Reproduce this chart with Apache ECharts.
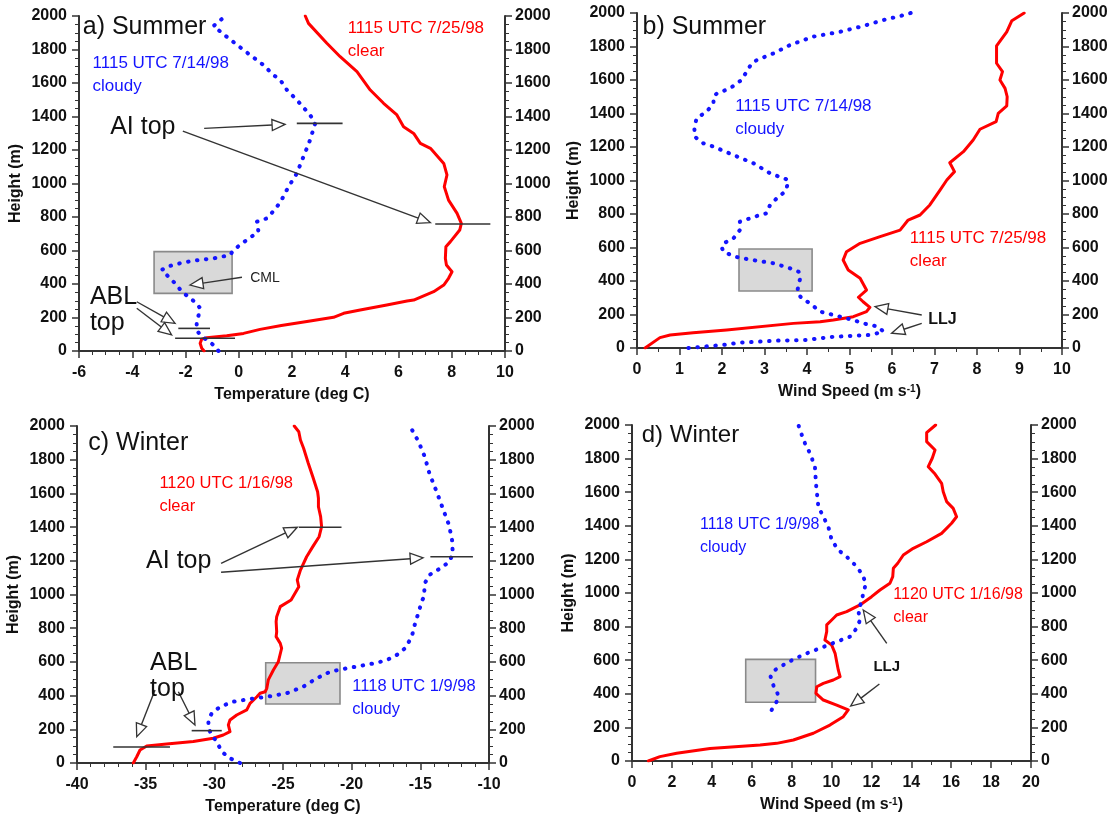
<!DOCTYPE html>
<html>
<head>
<meta charset="utf-8">
<script src="https://cdn.jsdelivr.net/npm/echarts@6/dist/echarts.min.js"></script>
<style>
  html, body { margin: 0; padding: 0; background: #ffffff; }
  #chart { width: 1117px; height: 821px; }
</style>
</head>
<body>
<div id="chart"></div>
<script>
// ---------- Profile data: [x value, height in m] ----------
// a) Summer temperature (deg C)
const sumTempClear = [[-1.3,0],[-1.39,16],[-1.45,46],[-1.39,71],[-1.2,79],[-0.45,91],[0.18,105],[0.8,129],[1.6,152],[2.68,179],[3.56,201],[3.94,225],[4.56,245],[5.56,275],[6.32,298],[6.57,304],[7.32,354],[7.7,394],[7.88,434],[8.01,473],[7.8,513],[7.76,553],[7.78,623],[7.95,653],[8.3,722],[8.36,762],[8.2,822],[7.88,901],[7.72,981],[7.82,1051],[7.7,1120],[7.2,1210],[6.82,1240],[6.57,1299],[6.19,1339],[5.94,1409],[5.44,1479],[4.94,1558],[4.44,1668],[3.81,1757],[3.31,1837],[2.62,1956],[2.5,2000]];
const sumTempCloudy = [[-0.76,0],[-0.95,36],[-1.2,66],[-1.45,96],[-1.58,125],[-1.58,165],[-1.52,205],[-1.45,255],[-1.58,284],[-1.89,324],[-2.14,354],[-2.33,394],[-2.58,434],[-2.89,484],[-2.7,503],[-2.2,524],[-1.7,539],[-0.95,553],[-0.32,573],[-0.2,603],[0.3,663],[0.74,712],[0.68,772],[1.06,792],[1.18,812],[1.56,887],[1.87,981],[2.18,1060],[2.43,1160],[2.68,1260],[2.87,1359],[2.68,1409],[2.18,1499],[1.81,1558],[1.56,1618],[1.3,1648],[0.93,1707],[0.18,1797],[-0.45,1876],[-0.95,1940],[-0.5,2000]];

// b) Summer wind speed (m/s)
const sumWindClear = [[0.19,0],[0.54,62],[0.78,78],[1.32,91],[2.11,107],[3.68,147],[4.31,157],[4.62,167],[5.09,187],[5.4,217],[5.48,243],[5.32,276],[5.21,303],[5.4,346],[5.36,356],[5.25,416],[4.97,466],[4.85,525],[4.93,575],[5.25,625],[5.72,665],[6.19,704],[6.38,764],[6.66,794],[6.89,854],[7.13,943],[7.29,1003],[7.47,1053],[7.36,1106],[7.68,1172],[7.91,1242],[8.07,1306],[8.45,1351],[8.5,1401],[8.7,1445],[8.71,1500],[8.66,1550],[8.54,1600],[8.6,1650],[8.46,1700],[8.46,1803],[8.7,1888],[8.82,1954],[9.11,2000]];
const sumWindCloudy = [[1.21,0],[1.56,8],[2.03,18],[2.42,32],[3.29,44],[3.99,48],[4.31,58],[4.62,67],[5.09,73],[5.48,78],[5.8,97],[5.68,127],[5.32,147],[5.09,167],[4.78,187],[4.31,217],[4.07,267],[3.87,297],[3.77,336],[3.8,376],[3.85,426],[3.8,456],[3.6,476],[3.21,506],[2.82,521],[2.5,535],[2.31,545],[2.03,575],[1.99,605],[2.07,629],[2.27,655],[2.42,704],[2.42,754],[2.66,774],[2.89,794],[3.05,804],[3.13,854],[3.29,894],[3.48,933],[3.52,953],[3.56,1003],[3.13,1043],[2.74,1103],[2.27,1152],[1.8,1202],[1.56,1222],[1.36,1261],[1.35,1312],[1.4,1371],[1.64,1411],[1.8,1461],[1.8,1500],[1.88,1520],[2.19,1550],[2.46,1600],[2.58,1650],[2.7,1700],[2.82,1719],[3.21,1759],[3.6,1809],[4.15,1859],[4.78,1888],[5.32,1922],[5.8,1958],[6.19,1982],[6.44,2000]];

// c) Winter temperature (deg C)
const winTempClear = [[-35.9,0],[-35.65,37],[-35.41,77],[-34.92,101],[-33.47,113],[-31.53,127],[-30.08,147],[-29.35,166],[-28.86,186],[-28.98,226],[-28.86,255],[-28.37,285],[-27.64,315],[-27.4,354],[-26.9,393],[-26.67,414],[-26.3,423],[-26.18,443],[-26.07,493],[-25.7,552],[-25.34,601],[-25.1,681],[-25.2,710],[-25.5,750],[-25.46,779],[-25.5,839],[-25.46,868],[-25.2,928],[-24.41,967],[-23.85,1046],[-23.96,1086],[-23.73,1145],[-23.28,1224],[-22.83,1284],[-22.37,1343],[-22.19,1402],[-22.26,1462],[-22.42,1521],[-22.42,1571],[-22.48,1610],[-22.83,1699],[-23.16,1779],[-23.5,1868],[-23.73,1917],[-23.85,1966],[-24.18,2000]];
const winTempCloudy = [[-28.13,0],[-28.86,28],[-29.46,67],[-29.83,127],[-30.19,166],[-30.43,206],[-30.43,255],[-30.19,295],[-29.58,334],[-28.61,364],[-27.4,380],[-26.18,393],[-24.73,414],[-23.52,453],[-22.54,503],[-21.57,542],[-20.36,562],[-19.39,576],[-18.17,595],[-17.44,611],[-16.72,641],[-16.11,681],[-15.62,750],[-15.38,829],[-15.1,900],[-14.9,960],[-14.73,987],[-14.68,1066],[-14.34,1116],[-13.55,1155],[-12.87,1195],[-12.64,1245],[-12.69,1323],[-12.91,1412],[-13.32,1501],[-13.77,1601],[-14.34,1719],[-14.68,1818],[-15.13,1907],[-15.76,2000]];

// d) Winter wind speed (m/s)
const winWindClear = [[0.82,0],[1.4,26],[2.24,46],[3.91,75],[6.42,95],[7.25,105],[8.09,125],[9.09,165],[9.92,214],[10.59,264],[10.84,304],[10.26,333],[9.59,363],[9.22,403],[9.26,442],[9.59,462],[10.09,482],[10.43,502],[10.34,542],[10.26,591],[10.18,641],[10.01,690],[9.67,720],[9.76,770],[9.76,810],[10.01,839],[10.26,869],[10.76,889],[11.43,929],[12.01,978],[12.43,1018],[12.93,1058],[13.07,1097],[13.1,1147],[13.32,1177],[13.6,1226],[14.1,1266],[14.77,1305],[15.52,1355],[16.02,1415],[16.27,1454],[16.1,1504],[15.77,1544],[15.6,1603],[15.52,1653],[15.19,1708],[14.85,1752],[15.05,1802],[15.19,1851],[14.77,1901],[14.77,1954],[15.22,2000]];
const winWindCloudy = [[7.0,304],[7.25,353],[7.33,393],[7.08,452],[6.95,502],[7.17,542],[7.58,571],[8.09,605],[8.76,641],[9.42,671],[10.26,710],[10.93,740],[11.26,790],[11.43,839],[11.34,899],[11.51,948],[11.59,998],[11.73,1058],[11.51,1117],[11.18,1167],[10.76,1216],[10.34,1256],[10.01,1315],[9.84,1395],[9.59,1454],[9.34,1514],[9.22,1653],[9.17,1752],[8.92,1832],[8.67,1891],[8.45,1960],[8.34,2000]];

// ---------- Annotations, in data units ----------
// arrows: [x from, h from, x to, h to]; marks: [x0, x1, h]; boxes: [x0, x1, h0, h1]
// notes: [x, h, text, kind]
const sumTempArrows = [[-1.3,1329,1.74,1353],[-2.1,1313,7.2,766],[0.12,440,-1.83,394],[-3.83,294,-2.39,165],[-3.83,255,-2.52,96]];
const sumTempMarks = [[2.18,3.9,1359],[7.38,9.45,758],[-2.27,-1.08,135],[-2.39,-0.14,76]];
const sumTempBoxes = [[-3.18,-0.25,344,593]];
const sumTempNotes = [[-5.86,1936,'a) Summer','title'],[-5.49,1718,'1115 UTC 7/14/98\ncloudy','blue'],[4.09,1926,'1115 UTC 7/25/98\nclear','red'],[-4.83,1339,'AI top','big'],[0.43,434,'CML','small'],[-5.59,324,'ABL\ntop','big']];

const sumWindArrows = [[6.7,197,5.6,247],[6.7,147,5.99,88]];
const sumWindMarks = [];
const sumWindBoxes = [[2.4,4.12,340,591]];
const sumWindNotes = [[0.13,1918,'b) Summer','title'],[2.31,1441,'1115 UTC 7/14/98\ncloudy','blue'],[6.42,655,'1115 UTC 7/25/98\nclear','red'],[6.85,167,'LLJ','llj']];

const winTempArrows = [[-29.51,1185,-23.96,1399],[-29.51,1132,-14.79,1218],[-34.32,433,-35.65,156],[-32.62,423,-31.41,226]];
const winTempMarks = [[-23.85,-20.74,1399],[-14.27,-11.17,1224],[-37.36,-33.23,95],[-31.65,-29.46,192]];
const winTempBoxes = [[-26.26,-20.85,350,595]];
const winTempNotes = [[-39.18,1897,'c) Winter','title'],[-34.0,1660,'1120 UTC 1/16/98\nclear','red'],[-34.97,1199,'AI top','big'],[-19.95,453,'1118 UTC 1/9/98\ncloudy','blue'],[-34.68,592,'ABL\ntop','big']];

const winWindArrows = [[12.77,700,11.59,899],[12.4,458,10.96,327]];
const winWindMarks = [];
const winWindBoxes = [[5.7,9.2,350,605]];
const winWindNotes = [[0.49,1940,'d) Winter','title'],[3.41,1405,'1118 UTC 1/9/98\ncloudy','blue'],[13.1,988,'1120 UTC 1/16/98\nclear','red'],[12.1,561,'LLJ','llj']];

// ---------- Styling ----------
const FONT = '"Liberation Sans", Arial, Helvetica, sans-serif';
const INK = '#333333';
const RED = '#ff0000';
const BLUE = '#1414ff';
const NOTE_STYLE = {
  title: { size: 25, weight: 'normal', color: '#111111', lh: 28 },
  big:   { size: 25, weight: 'normal', color: '#111111', lh: 26 },
  blue:  { size: 17, weight: 'normal', color: BLUE, lh: 23 },
  red:   { size: 17, weight: 'normal', color: RED, lh: 23 },
  small: { size: 14, weight: 'normal', color: '#222222', lh: 18 },
  llj:   { size: 16, weight: 'bold', color: '#111111', lh: 18 }
};

const panels = [
  { grid: { left: 79, top: 16, width: 426, height: 335 }, x: { min: -6, max: 10, interval: 2, minor: 4, name: 'Temperature (deg C)' },
    sizes: {},
    clear: sumTempClear, cloudy: sumTempCloudy, arrows: sumTempArrows, marks: sumTempMarks, boxes: sumTempBoxes, notes: sumTempNotes },
  { grid: { left: 637, top: 13, width: 425, height: 335 }, x: { min: 0, max: 10, interval: 1, minor: 2, name: 'Wind Speed (m s{sup|-1})' },
    sizes: {},
    clear: sumWindClear, cloudy: sumWindCloudy, arrows: sumWindArrows, marks: sumWindMarks, boxes: sumWindBoxes, notes: sumWindNotes },
  { grid: { left: 77, top: 426, width: 412, height: 337 }, x: { min: -40, max: -10, interval: 5, minor: 5, name: 'Temperature (deg C)' },
    sizes: { blue: 16.5, red: 16.5 },
    clear: winTempClear, cloudy: winTempCloudy, arrows: winTempArrows, marks: winTempMarks, boxes: winTempBoxes, notes: winTempNotes },
  { grid: { left: 632, top: 425, width: 399, height: 336 }, x: { min: 0, max: 20, interval: 2, minor: 2, name: 'Wind Speed (m s{sup|-1})' },
    sizes: { blue: 16, red: 16, title: 24, llj: 15 },
    clear: winWindClear, cloudy: winWindCloudy, arrows: winWindArrows, marks: winWindMarks, boxes: winWindBoxes, notes: winWindNotes }
];

const axisLine = { show: true, onZero: false, lineStyle: { color: INK, width: 2 } };
const axisTick = { show: true, inside: false, length: 7, lineStyle: { color: INK, width: 1.5 } };
const tickLabel = { color: '#111111', fontFamily: FONT, fontWeight: 'bold', fontSize: 16, formatter: v => String(v) };
const nameStyle = {
  color: '#111111', fontFamily: FONT, fontWeight: 'bold', fontSize: 16,
  rich: { sup: { fontFamily: FONT, fontWeight: 'bold', fontSize: 10, verticalAlign: 'top', lineHeight: 10, padding: [0, 0, 6, 0] } }
};

const grids = [], xAxes = [], yAxes = [], series = [];

panels.forEach((p, g) => {
  grids.push(Object.assign({ containLabel: false, outerBoundsMode: 'none' }, p.grid));
  xAxes.push({
    type: 'value', gridIndex: g, position: 'bottom', min: p.x.min, max: p.x.max, interval: p.x.interval,
    name: p.x.name, nameLocation: 'middle', nameGap: 36, nameMoveOverlap: false, nameTextStyle: nameStyle,
    axisLine, axisTick,
    minorTick: { show: true, splitNumber: p.x.minor, length: 4, lineStyle: { color: INK, width: 1 } },
    splitLine: { show: false }, minorSplitLine: { show: false },
    axisLabel: Object.assign({ margin: 14 }, tickLabel)
  });
  ['left', 'right'].forEach(pos => {
    yAxes.push({
      type: 'value', gridIndex: g, position: pos, min: 0, max: 2000, interval: 200,
      name: pos === 'left' ? 'Height (m)' : '', nameLocation: 'middle', nameGap: 55, nameMoveOverlap: false,
      nameTextStyle: nameStyle,
      axisLine, axisTick,
      minorTick: { show: true, splitNumber: 4, length: 4, lineStyle: { color: INK, width: 1 } },
      splitLine: { show: false }, minorSplitLine: { show: false },
      axisLabel: Object.assign({ margin: pos === 'left' ? 12 : 10 }, tickLabel)
    });
  });
  const yi = 2 * g;

  // shaded layer boxes (under the profiles)
  series.push({
    type: 'custom', xAxisIndex: g, yAxisIndex: yi, z: 1, silent: true, clip: false,
    data: p.boxes, encode: { x: [0, 1], y: [2, 3] },
    renderItem(params, api) {
      const a = api.coord([api.value(0), api.value(3)]);
      const b = api.coord([api.value(1), api.value(2)]);
      return { type: 'rect', shape: { x: a[0], y: a[1], width: b[0] - a[0], height: b[1] - a[1] },
        style: { fill: '#d9d9d9', stroke: '#8a8a8a', lineWidth: 1.6 } };
    }
  });

  // clear-sky profile: solid red
  series.push({
    type: 'line', xAxisIndex: g, yAxisIndex: yi, z: 3, data: p.clear, showSymbol: false, symbol: 'none',
    lineStyle: { color: RED, width: 3, join: 'round', cap: 'round' }, silent: true
  });
  // cloudy profile: blue dots
  series.push({
    type: 'line', xAxisIndex: g, yAxisIndex: yi, z: 3, data: p.cloudy, showSymbol: false, symbol: 'none',
    lineStyle: { color: BLUE, width: 4, type: [0.5, 8.5], cap: 'round', join: 'round' }, silent: true
  });

  // horizontal layer-top marks
  series.push({
    type: 'custom', xAxisIndex: g, yAxisIndex: yi, z: 4, silent: true, clip: false,
    data: p.marks, encode: { x: [0, 1], y: 2 },
    renderItem(params, api) {
      const a = api.coord([api.value(0), api.value(2)]);
      const b = api.coord([api.value(1), api.value(2)]);
      return { type: 'line', shape: { x1: a[0], y1: a[1], x2: b[0], y2: b[1] },
        style: { stroke: INK, lineWidth: 1.6 } };
    }
  });

  // arrows with open triangular heads
  series.push({
    type: 'custom', xAxisIndex: g, yAxisIndex: yi, z: 5, silent: true, clip: false,
    data: p.arrows, encode: { x: [0, 2], y: [1, 3] },
    renderItem(params, api) {
      const p0 = api.coord([api.value(0), api.value(1)]);
      const p1 = api.coord([api.value(2), api.value(3)]);
      const dx = p1[0] - p0[0], dy = p1[1] - p0[1];
      const len = Math.hypot(dx, dy) || 1, ux = dx / len, uy = dy / len;
      const L = 13, W = 5.5;
      const bx = p1[0] - ux * L, by = p1[1] - uy * L;
      return { type: 'group', children: [
        { type: 'line', shape: { x1: p0[0], y1: p0[1], x2: bx, y2: by }, style: { stroke: INK, lineWidth: 1.4 } },
        { type: 'polygon', shape: { points: [[p1[0], p1[1]], [bx - uy * W, by + ux * W], [bx + uy * W, by - ux * W]] },
          style: { fill: '#ffffff', stroke: INK, lineWidth: 1.3 } }
      ] };
    }
  });

  // text notes
  const notes = p.notes;
  const sizes = p.sizes;
  series.push({
    type: 'custom', xAxisIndex: g, yAxisIndex: yi, z: 6, silent: true, clip: false,
    data: notes.map(n => [n[0], n[1]]), encode: { x: 0, y: 1 },
    renderItem(params, api) {
      const n = notes[params.dataIndex];
      const st = NOTE_STYLE[n[3]];
      const size = sizes[n[3]] || st.size;
      const pt = api.coord([api.value(0), api.value(1)]);
      const lines = n[2].split('\n');
      return { type: 'group', children: lines.map((t, i) => ({
        type: 'text', x: pt[0], y: pt[1] + i * st.lh,
        style: { text: t, fill: st.color, font: st.weight + ' ' + size + 'px ' + FONT, textAlign: 'left', textVerticalAlign: 'middle', verticalAlign: 'middle' }
      })) };
    }
  });
});

const chart = echarts.init(document.getElementById('chart'), null, { renderer: 'canvas' });
chart.setOption({
  animation: false,
  backgroundColor: '#ffffff',
  grid: grids,
  xAxis: xAxes,
  yAxis: yAxes,
  series: series
});
</script>
</body>
</html>
